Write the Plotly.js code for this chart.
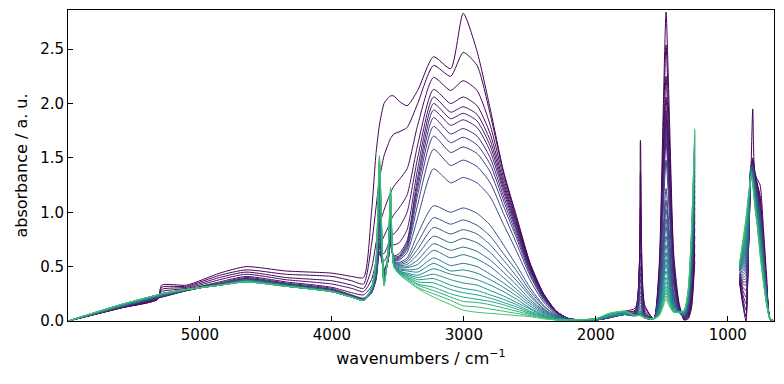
<!DOCTYPE html>
<html><head><meta charset="utf-8">
<script src="https://cdn.plot.ly/plotly-3.0.1.min.js"></script>
<style>html,body{margin:0;padding:0;background:#fff}</style>
</head><body><div id="chart" style="width:784px;height:384px"></div>
<script>
// wavenumber nodes (cm-1) for the two recorded ranges
const nodesA = [6000,5600,5320,5290,5100,4850,4650,4350,4000,3850,3760,3700,3665,3640,3605,3575,3555,3530,3490,3430,3350,3230,3100,3005,2900,2800,2700,2600,2500,2400,2300,2200,2000,1900,1780,1700,1662,1630,1560,1520,1490,1468,1445,1410,1370,1330,1300,1275,1250];
const nodesB = [911,885,862,840,823,811,795,775,755,730,705,680,650];

// absorbance of the 28 spectra (first -> last) at each wavenumber node
const a6000 = [0,0,0,0,0,0,0, 0,0,0,0,0,0,0, 0,0,0,0,0,0,0, 0,0,0,0,0,0,0];
const a5600 = [.12,.12,.12,.12,.12,.12,.13, .13,.13,.13,.13,.13,.13,.13, .14,.14,.14,.14,.14,.14,.14, .15,.15,.15,.15,.15,.15,.15];
const a5320 = [.20,.20,.20,.21,.21,.21,.21, .21,.22,.22,.22,.22,.22,.22, .23,.23,.23,.23,.23,.23,.23, .24,.24,.24,.24,.24,.24,.24];
const a5290 = [.33,.31,.29,.27,.25,.23,.22, .22,.22,.23,.23,.23,.23,.23, .24,.24,.24,.24,.24,.24,.24, .25,.25,.25,.25,.25,.25,.25];
const a5100 = [.33,.32,.31,.30,.29,.29,.28, .28,.28,.28,.28,.28,.29,.29, .29,.29,.29,.29,.29,.29,.29, .29,.29,.29,.29,.29,.29,.29];
const a4850 = [.44,.42,.40,.38,.36,.35,.34, .34,.34,.34,.34,.34,.34,.33, .33,.33,.33,.33,.33,.33,.33, .33,.33,.33,.33,.33,.33,.33];
const a4650 = [.50,.47,.45,.43,.41,.40,.39, .39,.39,.38,.38,.38,.38,.38, .38,.37,.37,.37,.37,.37,.37, .36,.36,.36,.36,.36,.36,.36];
const a4350 = [.46,.43,.40,.38,.36,.35,.34, .34,.34,.34,.33,.33,.33,.33, .33,.33,.33,.33,.33,.32,.32, .32,.32,.32,.32,.32,.32,.32];
const a4000 = [.44,.41,.37,.34,.31,.30,.29, .29,.28,.28,.28,.28,.28,.28, .28,.28,.27,.27,.27,.27,.27, .27,.27,.27,.27,.27,.27,.27];
const a3850 = [.41,.37,.33,.30,.26,.24,.23, .23,.23,.23,.23,.22,.22,.22, .22,.22,.22,.22,.22,.22,.22, .22,.22,.22,.22,.22,.22,.22];
const a3760 = [.40,.34,.30,.27,.24,.21,.20, .20,.20,.20,.20,.20,.20,.20, .20,.19,.19,.19,.19,.19,.19, .19,.19,.19,.19,.19,.19,.19];
const a3700 = [1.00,.70,.48,.38,.32,.28,.26, .26,.26,.26,.27,.27,.27,.27, .28,.28,.28,.28,.29,.29,.29, .29,.30,.30,.30,.30,.30,.30];
const a3665 = [1.55,1.05,.72,.55,.45,.40,.38, .39,.40,.41,.42,.43,.44,.45, .46,.47,.48,.49,.50,.51,.52, .53,.54,.55,.56,.57,.58,.58];
const a3640 = [1.80,1.30,.88,.68,.62,.62,.64, .68,.72,.76,.80,.84,.88,.93, .98,1.03,1.08,1.13,1.18,1.23,1.28, 1.32,1.36,1.40,1.44,1.47,1.50,1.52];
const a3605 = [2.00,1.52,1.02,.78,.62,.55,.48, .47,.46,.45,.44,.43,.42,.41, .40,.39,.38,.38,.37,.36,.36, .35,.35,.34,.34,.33,.33,.32];
const a3575 = [2.05,1.62,1.12,.86,.70,.62,.56, .55,.55,.55,.55,.55,.55,.56, .56,.57,.57,.58,.58,.59,.59, .60,.60,.61,.61,.62,.62,.62];
const a3555 = [2.07,1.68,1.18,.92,.78,.72,.70, .72,.74,.76,.78,.80,.82,.85, .88,.91,.94,.97,1.00,1.03,1.06, 1.09,1.12,1.15,1.17,1.19,1.21,1.23];
const a3530 = [2.07,1.72,1.24,.98,.80,.70,.60, .59,.58,.57,.57,.56,.55,.55, .54,.54,.53,.53,.52,.52,.52, .51,.51,.51,.50,.50,.50,.50];
const a3490 = [2.02,1.74,1.30,1.04,.86,.72,.62, .60,.59,.58,.57,.56,.54,.53, .52,.51,.50,.49,.48,.47,.46, .46,.45,.45,.44,.44,.43,.43];
const a3430 = [1.98,1.78,1.40,1.16,1.00,.84,.74, .72,.70,.68,.66,.63,.58,.56, .54,.52,.50,.49,.47,.46,.44, .43,.42,.41,.40,.39,.38,.37];
const a3350 = [2.12,2.00,1.80,1.62,1.50,1.40,1.32, 1.27,1.22,1.16,1.07,.95,.80,.72, .66,.61,.56,.52,.48,.45,.42, .40,.38,.36,.34,.33,.31,.30];
const a3230 = [2.43,2.35,2.24,2.13,2.06,2.00,1.94, 1.87,1.79,1.70,1.58,1.40,1.06,.95, .86,.78,.71,.65,.58,.53,.48, .43,.39,.35,.31,.28,.25,.22];
const a3100 = [2.32,2.25,2.12,2.00,1.92,1.86,1.80, 1.72,1.64,1.55,1.43,1.27,1.00,.89, .80,.72,.65,.58,.51,.46,.43, .38,.33,.29,.25,.22,.19,.15];
const a3005 = [2.83,2.47,2.21,2.06,1.97,1.91,1.85, 1.77,1.69,1.60,1.48,1.32,1.04,.93, .84,.76,.68,.61,.53,.47,.41, .35,.30,.26,.22,.18,.14,.10];
const a2900 = [2.48,2.35,2.12,1.98,1.90,1.84,1.78, 1.70,1.62,1.54,1.42,1.27,.99,.88, .80,.72,.64,.57,.50,.44,.38, .33,.28,.24,.20,.17,.13,.08];
const a2800 = [1.95,1.90,1.80,1.72,1.66,1.61,1.56, 1.50,1.44,1.37,1.27,1.14,.88,.78, .70,.63,.56,.50,.43,.38,.33, .28,.24,.21,.18,.15,.11,.07];
const a2700 = [1.38,1.36,1.32,1.28,1.25,1.22,1.19, 1.15,1.11,1.06,.99,.89,.70,.62, .56,.50,.45,.40,.35,.31,.27, .23,.20,.17,.15,.12,.09,.06];
const a2600 = [.96,.94,.92,.90,.88,.86,.84, .82,.79,.76,.71,.64,.51,.46, .41,.37,.33,.29,.26,.23,.20, .17,.15,.13,.11,.09,.07,.05];
const a2500 = [.54,.53,.52,.51,.50,.49,.48, .47,.46,.44,.42,.38,.31,.28, .25,.23,.20,.18,.16,.14,.12, .11,.09,.08,.07,.06,.05,.04];
const a2400 = [.26,.26,.25,.25,.24,.24,.23, .23,.22,.21,.20,.18,.15,.14, .12,.11,.10,.09,.08,.07,.06, .05,.05,.04,.04,.03,.03,.02];
const a2300 = [.09,.09,.09,.09,.08,.08,.08, .08,.08,.07,.07,.06,.05,.05, .04,.04,.04,.03,.03,.03,.02, .02,.02,.02,.01,.01,.01,.01];
const a2200 = [.02,.02,.02,.02,.02,.02,.02, .02,.02,.02,.01,.01,.01,.01, .01,.01,.01,.01,.01,.01,.01, .01,.01,.01,.01,.01,.01,.01];
const a2000 = [.01,.01,.01,.01,.01,.01,.01, .01,.01,.01,.01,.01,.01,.01, .01,.01,.01,.01,.01,.01,.01, .02,.02,.02,.02,.02,.02,.02];
const a1900 = [.03,.03,.03,.03,.03,.03,.03, .03,.03,.03,.03,.03,.04,.04, .04,.04,.04,.04,.04,.04,.04, .05,.05,.06,.06,.06,.07,.07];
const a1780 = [.09,.08,.08,.07,.07,.07,.07, .07,.06,.06,.06,.06,.06,.06, .06,.06,.06,.06,.06,.07,.07, .07,.08,.08,.08,.09,.09,.09];
const a1700 = [.12,.10,.09,.08,.07,.07,.07, .06,.06,.06,.06,.06,.05,.05, .05,.05,.05,.05,.05,.05,.05, .05,.05,.05,.05,.05,.05,.05];
const a1662 = [1.66,1.37,1.05,.80,.62,.50,.44, .38,.32,.27,.23,.20,.17,.14, .12,.10,.09,.08,.07,.07,.06, .06,.06,.05,.05,.05,.05,.05];
const a1630 = [.15,.13,.10,.08,.07,.06,.05, .05,.04,.04,.04,.03,.03,.03, .03,.03,.03,.03,.03,.03,.03, .03,.03,.03,.03,.03,.03,.03];
const a1560 = [.02,.02,.02,.02,.02,.02,.02, .02,.02,.02,.02,.02,.02,.02, .02,.02,.02,.02,.02,.02,.02, .02,.02,.02,.02,.02,.02,.02];
const a1520 = [.51,.46,.41,.37,.35,.34,.33, .31,.30,.27,.22,.20,.19,.17, .16,.14,.13,.12,.11,.10,.09, .08,.07,.07,.06,.06,.05,.05];
const a1490 = [1.90,1.70,1.51,1.38,1.30,1.26,1.22, 1.17,1.11,.99,.82,.74,.69,.63, .58,.52,.47,.42,.38,.35,.31, .27,.24,.21,.19,.17,.15,.13];
const a1468 = [2.84,2.54,2.25,2.06,1.94,1.88,1.82, 1.74,1.66,1.48,1.22,1.11,1.03,.94, .87,.78,.70,.63,.57,.52,.46, .40,.36,.32,.29,.26,.23,.20];
const a1445 = [1.99,1.78,1.58,1.44,1.36,1.32,1.27, 1.22,1.16,1.04,.85,.78,.72,.66, .61,.55,.49,.44,.40,.36,.32, .28,.25,.22,.20,.18,.16,.14];
const a1410 = [.62,.56,.50,.45,.43,.41,.40, .38,.37,.33,.27,.24,.23,.21, .19,.18,.16,.15,.14,.13,.12, .11,.10,.09,.09,.08,.08,.08];
const a1370 = [.17,.15,.14,.12,.12,.11,.11, .10,.10,.09,.08,.08,.08,.08, .08,.08,.08,.08,.08,.08,.08, .08,.08,.08,.08,.08,.08,.08];
const a1330 = [.01,.01,.01,.02,.02,.02,.03, .03,.03,.04,.04,.04,.05,.05, .05,.06,.06,.06,.07,.07,.07, .08,.08,.08,.09,.09,.10,.10];
const a1300 = [.02,.03,.04,.05,.06,.07,.08, .09,.10,.11,.12,.13,.14,.15, .16,.17,.18,.19,.20,.21,.22, .23,.24,.25,.26,.27,.28,.30];
const a1275 = [.12,.15,.18,.21,.24,.27,.30, .33,.36,.39,.42,.45,.48,.51, .54,.57,.60,.63,.66,.68,.70, .72,.74,.76,.78,.80,.82,.85];
const a1250 = [.55,.62,.70,.78,.85,.92,.98, 1.04,1.10,1.15,1.20,1.25,1.30,1.34, 1.38,1.42,1.46,1.49,1.52,1.55,1.58, 1.61,1.64,1.67,1.70,1.72,1.75,1.77];

const b911 = [.35,.37,.38,.39,.40,.41,.42, .43,.43,.44,.44,.45,.45,.46, .46,.47,.47,.48,.48,.49,.49, .50,.50,.51,.51,.52,.52,.53];
const b885 = [.14,.16,.20,.24,.28,.31,.34, .36,.38,.40,.42,.44,.46,.48, .50,.52,.54,.56,.58,.60,.62, .64,.66,.68,.70,.72,.73,.75];
const b862 = [.00,.04,.10,.16,.22,.28,.33, .36,.39,.42,.45,.48,.51,.54, .57,.60,.63,.66,.69,.72,.75, .78,.81,.84,.87,.90,.93,.95];
const b840 = [.90,.80,.78,.78,.79,.80,.82, .84,.86,.88,.90,.92,.94,.96, .98,1.00,1.02,1.04,1.06,1.08,1.10, 1.12,1.13,1.14,1.16,1.17,1.18,1.20];
const b823 = [1.45,1.42,1.40,1.40,1.41,1.42,1.43, 1.43,1.43,1.43,1.42,1.42,1.42,1.41, 1.41,1.40,1.40,1.39,1.39,1.38,1.38, 1.37,1.36,1.36,1.35,1.34,1.33,1.32];
const b811 = [1.95,1.50,1.48,1.47,1.46,1.45,1.44, 1.43,1.42,1.41,1.40,1.39,1.38,1.37, 1.36,1.35,1.34,1.33,1.32,1.31,1.30, 1.30,1.29,1.28,1.27,1.27,1.26,1.25];
const b795 = [1.35,1.38,1.36,1.35,1.34,1.33,1.32, 1.31,1.30,1.28,1.27,1.26,1.25,1.23, 1.22,1.21,1.19,1.18,1.17,1.15,1.14, 1.13,1.11,1.10,1.09,1.08,1.06,1.05];
const b775 = [1.30,1.26,1.24,1.22,1.21,1.20,1.18, 1.16,1.15,1.13,1.12,1.10,1.08,1.07, 1.05,1.03,1.02,1.00,.99,.97,.95, .94,.92,.91,.89,.88,.86,.85];
const b755 = [1.25,1.15,1.12,1.10,1.08,1.06,1.04, 1.02,1.00,.98,.96,.94,.92,.90, .88,.86,.83,.81,.79,.77,.75, .73,.71,.69,.67,.64,.62,.60];
const b730 = [.85,.76,.74,.72,.70,.69,.68, .66,.65,.63,.62,.60,.58,.57, .55,.54,.52,.50,.49,.47,.46, .44,.42,.41,.39,.38,.36,.35];
const b705 = [.40,.33,.32,.31,.30,.29,.28, .27,.27,.26,.25,.24,.24,.23, .22,.21,.21,.20,.19,.19,.18, .17,.17,.16,.16,.15,.15,.14];
const b680 = [.01,.02,.02,.02,.02,.02,.02, .02,.02,.02,.02,.02,.02,.02, .02,.02,.02,.02,.02,.02,.02, .02,.02,.02,.02,.02,.02,.02];
const b650 = [0,0,0,0,0,0,0, 0,0,0,0,0,0,0, 0,0,0,0,0,0,0, 0,0,0,0,0,0,0];

const xTicks = [5000, 4000, 3000, 2000, 1000];
const yTicks = [0, 0.5, 1.0, 1.5, 2.0, 2.5];
const yTickText = ['0.0', '0.5', '1.0', '1.5', '2.0', '2.5'];

const colsA = [a6000,a5600,a5320,a5290,a5100,a4850,a4650,a4350,a4000,a3850,a3760,a3700,a3665,a3640,a3605,a3575,a3555,a3530,a3490,a3430,a3350,a3230,a3100,a3005,a2900,a2800,a2700,a2600,a2500,a2400,a2300,a2200,a2000,a1900,a1780,a1700,a1662,a1630,a1560,a1520,a1490,a1468,a1445,a1410,a1370,a1330,a1300,a1275,a1250];
const colsB = [b911,b885,b862,b840,b823,b811,b795,b775,b755,b730,b705,b680,b650];

// viridis colormap
const VIR = [[68,1,84],[72,36,117],[65,68,135],[53,95,141],[42,120,142],[33,145,140],[34,168,132],[68,191,112],[122,209,81],[189,223,38],[253,231,37]];
function viridis(t){
  t = Math.max(0, Math.min(1, t));
  const p = t*(VIR.length-1), k = Math.min(Math.floor(p), VIR.length-2), f = p-k;
  const c = VIR[k].map((v,j)=>Math.round(v+(VIR[k+1][j]-v)*f));
  return 'rgb('+c.join(',')+')';
}

const n = a6000.length;
const traces = [];
for (let i = 0; i < n; i++) {
  const x = nodesA.concat([1100], nodesB);
  const y = colsA.map(c => c[i]).concat([null], colsB.map(c => c[i]));
  traces.push({
    type: 'scatter', mode: 'lines', x: x, y: y,
    line: {color: viridis(Math.pow(i/(n-1), 1.3)*0.7), width: 1, shape: 'spline', smoothing: 0.6},
    hoverinfo: 'skip', showlegend: false, connectgaps: false
  });
}

const font = {family: 'DejaVu Sans, sans-serif', size: 15, color: '#000'};
const layout = {
  width: 784, height: 384,
  margin: {l: 68, r: 10, t: 10, b: 63},
  paper_bgcolor: '#fff', plot_bgcolor: '#fff',
  font: font,
  showlegend: false,
  xaxis: {
    range: [5999.6, 649.9], tickvals: xTicks, ticks: 'inside', ticklen: 5, tickwidth: 1, tickcolor: '#000',
    showline: true, mirror: true, linecolor: '#000', linewidth: 1, showgrid: false, zeroline: false,
    tickfont: font,
    title: {text: 'wavenumbers / cm<sup>\u22121</sup>', font: {family: 'DejaVu Sans, sans-serif', size: 16, color: '#000'}, standoff: 9}
  },
  yaxis: {
    range: [0, 2.86], tickvals: yTicks, ticktext: yTickText, ticks: 'inside', ticklen: 5, tickwidth: 1, tickcolor: '#000',
    showline: true, mirror: true, linecolor: '#000', linewidth: 1, showgrid: false, zeroline: false,
    tickfont: font,
    title: {text: 'absorbance / a. u.', font: {family: 'DejaVu Sans, sans-serif', size: 16, color: '#000'}, standoff: 8}
  }
};
Plotly.newPlot('chart', traces, layout, {staticPlot: true, displayModeBar: false});
</script>
</body></html>
